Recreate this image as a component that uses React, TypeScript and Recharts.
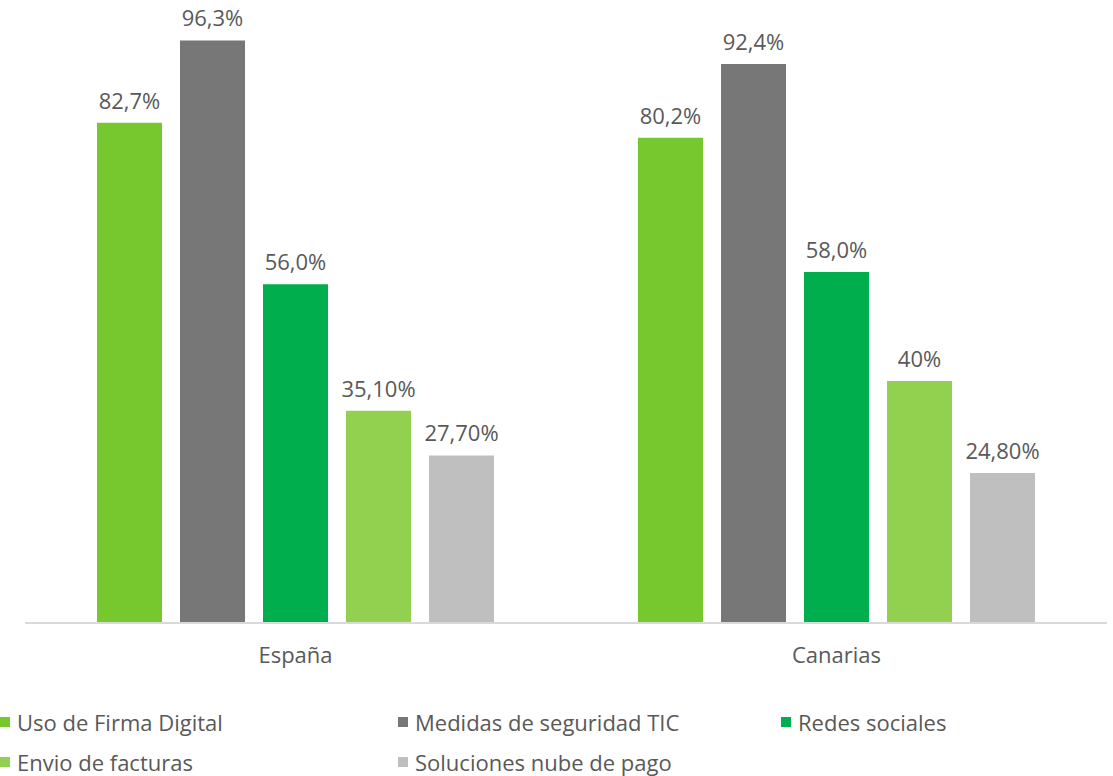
import React from "react";
import { BarChart, Bar, XAxis, YAxis, LabelList } from "recharts";

const categories = ["España", "Canarias"];

const firmaDigital = [82.7, 80.2];
const firmaLabels = ["82,7%", "80,2%"];
const seguridadTic = [96.3, 92.4];
const seguridadLabels = ["96,3%", "92,4%"];
const redesSociales = [56.0, 58.0];
const redesLabels = ["56,0%", "58,0%"];
const envioFacturas = [35.1, 40];
const envioLabels = ["35,10%", "40%"];
const nubePago = [27.7, 24.8];
const nubeLabels = ["27,70%", "24,80%"];

const series = [
  { key: "firma", name: "Uso de Firma Digital", color: "#77C72F", values: firmaDigital, labels: firmaLabels },
  { key: "seguridad", name: "Medidas de seguridad TIC", color: "#777777", values: seguridadTic, labels: seguridadLabels },
  { key: "redes", name: "Redes sociales", color: "#00AE4D", values: redesSociales, labels: redesLabels },
  { key: "envio", name: "Envio de facturas", color: "#92D050", values: envioFacturas, labels: envioLabels },
  { key: "nube", name: "Soluciones nube de pago", color: "#BFBFBF", values: nubePago, labels: nubeLabels },
];

const data = categories.map((cat, i) => {
  const row: Record<string, string | number> = { cat };
  series.forEach((s) => {
    row[s.key] = s.values[i];
    row[s.key + "Label"] = s.labels[i];
  });
  return row;
});

const FONT = "'Open Sans', 'Noto Sans', sans-serif";
const TEXT = "#595959";

// legend laid out in 3 columns, 2 rows like the original
const legendCols = [0, 398, 781];

export default function App() {
  return (
    <div style={{ position: "absolute", left: 0, top: 0, width: 1113, height: 776, background: "#fff", fontFamily: FONT }}>
      <BarChart
        width={1113}
        height={680}
        data={data}
        margin={{ top: 18, right: 6, bottom: 0, left: 25 }}
        barGap={18}
        barSize={65}
      >
        <XAxis
          dataKey="cat"
          height={57}
          axisLine={{ stroke: "#D9D9D9", strokeWidth: 2 }}
          tickLine={false}
          tickSize={6}
          tickMargin={18}
          tick={{ fontSize: 22, fill: TEXT, fontFamily: FONT }}
        />
        <YAxis hide domain={[0, 100]} />
        {series.map((s) => (
          <Bar key={s.key} dataKey={s.key} name={s.name} fill={s.color} isAnimationActive={false}>
            <LabelList
              dataKey={s.key + "Label"}
              position="top"
              offset={14}
              style={{ fontSize: 22, fill: TEXT, fontFamily: FONT }}
            />
          </Bar>
        ))}
      </BarChart>
      {series.map((s, i) => {
        const col = i % 3;
        const row = Math.floor(i / 3);
        return (
          <div
            key={s.key}
            style={{
              position: "absolute",
              left: legendCols[col],
              top: 707 + row * 40,
              height: 30,
              display: "flex",
              alignItems: "center",
              fontSize: 22,
              color: TEXT,
              whiteSpace: "nowrap",
            }}
          >
            <span style={{ width: 10, height: 10, background: s.color, marginRight: 7, display: "inline-block" }} />
            {s.name}
          </div>
        );
      })}
    </div>
  );
}
